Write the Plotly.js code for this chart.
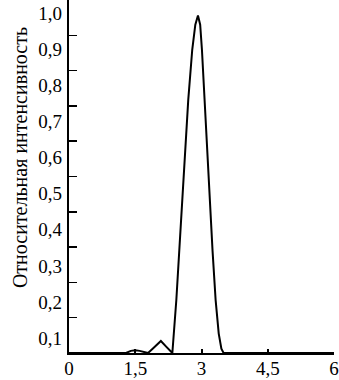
<!DOCTYPE html>
<html>
<head>
<meta charset="utf-8">
<script src="https://cdn.plot.ly/plotly-3.0.1.min.js"></script>
<style>html,body{margin:0;padding:0;background:#fff;}#chart{width:339px;height:380px;}</style>
</head>
<body>
<div id="chart"></div>
<script>
var energy = [0, 0.5, 1.0, 1.29, 1.4, 1.5, 1.6, 1.7, 1.79, 1.9, 2.0, 2.08, 2.2, 2.34, 2.43, 2.5, 2.565, 2.63, 2.70, 2.79, 2.86, 2.92, 2.97, 3.01, 3.07, 3.12, 3.18, 3.25, 3.32, 3.39, 3.45, 3.50, 4.0, 5.0, 6.0];
var intensity = [0, 0, 0, 0, 0.006, 0.008, 0.006, 0.003, 0, 0.013, 0.026, 0.034, 0.018, 0, 0.15, 0.29, 0.433, 0.575, 0.717, 0.859, 0.93, 0.956, 0.93, 0.859, 0.717, 0.58, 0.433, 0.29, 0.15, 0.055, 0.012, 0, 0, 0, 0];
var xTickVals = [0, 1.5, 3, 4.5, 6];
var xTickText = ['0', '1,5', '3', '4,5', '6'];
var yTickVals = [0.1, 0.2, 0.3, 0.4, 0.5, 0.6, 0.7, 0.8, 0.9, 1.0];
var yTickText = ['0,1', '0,2', '0,3', '0,4', '0,5', '0,6', '0,7', '0,8', '0,9', '1,0'];
var yTitle = 'Относительная интенсивность';

var tickFnt = {family: 'Liberation Serif, serif', size: 19, color: '#000'};
var titleFnt = {family: 'Liberation Serif, serif', size: 20, color: '#000'};

var traces = [
  {x: energy, y: intensity, type: 'scatter', mode: 'lines', line: {color: '#000', width: 2}, hoverinfo: 'none', cliponaxis: false},
  {x: [0], y: [0.5], yaxis: 'y2', type: 'scatter', mode: 'markers', marker: {opacity: 0}, hoverinfo: 'none'}
];

var layout = {
  width: 339, height: 380,
  margin: {l: 69, r: 5, t: 0, b: 27},
  paper_bgcolor: '#fff', plot_bgcolor: '#fff',
  showlegend: false,
  font: tickFnt,
  xaxis: {
    range: [0, 6], tickmode: 'array', tickvals: xTickVals, ticktext: xTickText,
    ticks: 'inside', ticklen: 4, tickwidth: 2, tickcolor: '#000',
    showline: true, linewidth: 2, linecolor: '#000',
    showgrid: false, zeroline: false, tickfont: tickFnt, ticklabelstandoff: -3
  },
  yaxis: {
    range: [0, 1.0], tickmode: 'array', tickvals: yTickVals, showticklabels: false,
    ticks: 'inside', ticklen: 8, tickwidth: 1.5, tickcolor: '#000',
    showline: true, linewidth: 2, linecolor: '#000',
    showgrid: false, zeroline: false
  },
  yaxis2: {
    overlaying: 'y', side: 'left', range: [0.0585, 1.0369],
    tickmode: 'array', tickvals: yTickVals, ticktext: yTickText,
    ticks: '', showline: false, showgrid: false, zeroline: false,
    tickfont: tickFnt, ticklabelstandoff: 6
  },
  annotations: [{
    text: yTitle, textangle: -90, xref: 'paper', yref: 'paper',
    x: -0.1846, y: 0.5524, xanchor: 'center', yanchor: 'middle',
    showarrow: false, font: titleFnt
  }]
};

Plotly.newPlot('chart', traces, layout, {displayModeBar: false, staticPlot: true});
</script>
</body>
</html>
